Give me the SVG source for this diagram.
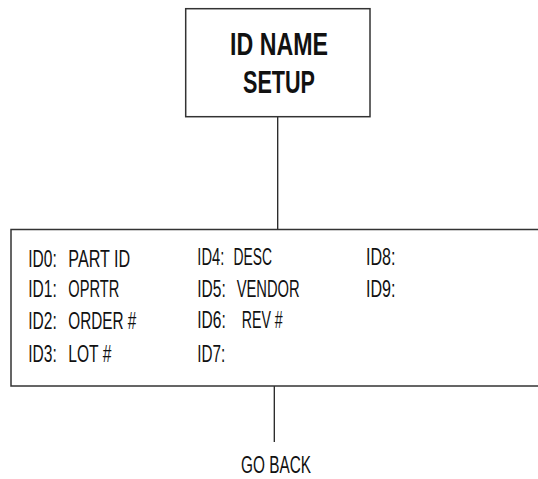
<svg xmlns="http://www.w3.org/2000/svg" width="538" height="479" viewBox="0 0 538 479">
<style>
.box{fill:#fff;stroke:#333;stroke-width:1.5}
.ln{stroke:#222;stroke-width:1.3;fill:none}
text{font-family:"Liberation Sans",Arial,sans-serif;fill:#111}
.t{font-size:30.5px;font-weight:bold;text-anchor:middle}
.b{font-size:23.5px}
</style>
<rect width="538" height="479" fill="#fff"/>
<g id="connectors">
<line class="ln" x1="277.7" y1="116.7" x2="277.7" y2="230"/>
<line class="ln" x1="274.3" y1="386" x2="274.3" y2="442"/>
</g>
<g id="title">
<rect class="box" x="185.7" y="8.7" width="184.3" height="108"/>
<text class="t" x="279" y="55" textLength="98" lengthAdjust="spacingAndGlyphs">ID NAME</text>
<text class="t" x="279" y="93" textLength="72" lengthAdjust="spacingAndGlyphs">SETUP</text>
</g>
<g id="ids">
<rect class="box" x="11" y="229.5" width="530" height="156.5"/>
<text class="b" x="28.3" y="266.5" textLength="28.5" lengthAdjust="spacingAndGlyphs">ID0:</text><text class="b" x="68.3" y="266.5" textLength="62" lengthAdjust="spacingAndGlyphs">PART ID</text>
<text class="b" x="28.3" y="297" textLength="28.5" lengthAdjust="spacingAndGlyphs">ID1:</text><text class="b" x="68.3" y="297" textLength="51" lengthAdjust="spacingAndGlyphs">OPRTR</text>
<text class="b" x="28.3" y="328.5" textLength="28.5" lengthAdjust="spacingAndGlyphs">ID2:</text><text class="b" x="68.3" y="328.5" textLength="68" lengthAdjust="spacingAndGlyphs">ORDER #</text>
<text class="b" x="28.3" y="361.5" textLength="28.5" lengthAdjust="spacingAndGlyphs">ID3:</text><text class="b" x="68.3" y="361.5" textLength="43" lengthAdjust="spacingAndGlyphs">LOT #</text>
<text class="b" x="197.3" y="265" textLength="27" lengthAdjust="spacingAndGlyphs">ID4:</text><text class="b" x="233.5" y="265" textLength="38.5" lengthAdjust="spacingAndGlyphs">DESC</text>
<text class="b" x="197.3" y="296.5" textLength="28.5" lengthAdjust="spacingAndGlyphs">ID5:</text><text class="b" x="236.7" y="296.5" textLength="63" lengthAdjust="spacingAndGlyphs">VENDOR</text>
<text class="b" x="197.3" y="328" textLength="28.5" lengthAdjust="spacingAndGlyphs">ID6:</text><text class="b" x="241.7" y="328" textLength="41" lengthAdjust="spacingAndGlyphs">REV #</text>
<text class="b" x="197.3" y="362" textLength="28" lengthAdjust="spacingAndGlyphs">ID7:</text>
<text class="b" x="366" y="265" textLength="29.5" lengthAdjust="spacingAndGlyphs">ID8:</text>
<text class="b" x="366" y="296.5" textLength="29.5" lengthAdjust="spacingAndGlyphs">ID9:</text>
</g>
<g id="goback">
<text class="b" x="276" y="472.5" text-anchor="middle" textLength="70" lengthAdjust="spacingAndGlyphs">GO BACK</text>
</g>
</svg>
